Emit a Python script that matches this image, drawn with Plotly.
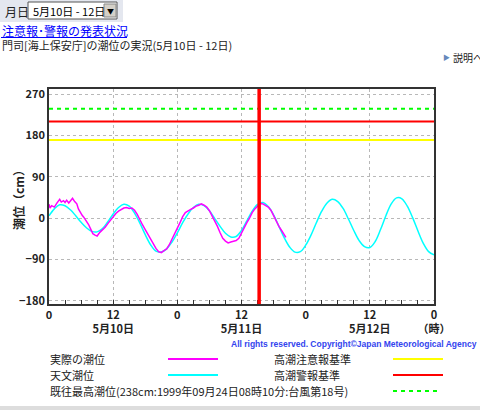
import plotly.graph_objects as go

# Astronomical tide (hourly, from 5/10 00:00), cm
astro_hours = list(range(0, 73))
astro_cm = [5, 20, 29, 27, 18, 5, -9, -21, -29, -30, -23, -8, 9, 23, 30,
            26, 11, -11, -36, -58, -72, -74, -67, -52, -32, -10, 9, 23, 30,
            27, 16, -1, -18, -33, -41, -40, -27, -6, 15, 30, 34, 25, 7, -18,
            -43, -63, -74, -73, -59, -37, -10, 15, 33, 41, 36, 21, -2, -27,
            -49, -62, -64, -51, -25, 5, 31, 44, 42, 26, 1, -28, -55, -73, -80]

# Observed tide, cm
obs_hours = [0, 0.2, 0.5, 1.0, 1.5, 2.0, 2.3, 2.7, 3.0, 3.3, 3.7, 4.0, 4.4, 4.8,
             5.2, 5.5, 5.8, 6.2, 6.5, 7.0, 7.4, 7.8, 8.2, 8.6, 9.0, 9.5, 10.0,
             10.5, 11.0, 11.5, 12.0, 12.5, 13.0, 13.5, 14.0, 14.5, 15.0, 15.5,
             16.0, 16.5, 17.0, 17.5, 18.0, 18.5, 19.0, 19.5, 20.0, 20.5, 21.0,
             21.5, 22.0, 22.5, 23.0, 23.5, 24.0, 24.5, 25.0, 25.5, 26.0, 26.5,
             27.0, 27.5, 28.0, 28.5, 29.0, 29.5, 30.0, 30.5, 31.0, 31.5, 32.0,
             32.5, 33.0, 33.5, 34.0, 34.5, 35.0, 35.5, 36.0, 36.5, 37.0, 37.5,
             38.0, 38.5, 39.0, 39.5, 40.0, 40.5, 41.0, 41.5, 42.0, 42.5, 43.0,
             43.5, 44.0, 44.3]
obs_cm = [30, 22, 27, 24, 33, 41, 35, 38, 34, 39, 33, 38, 43, 36,
          31, 20, 13, 6, 2, -6, -14, -24, -34, -37, -39, -31, -26,
          -20, -12, -4, 4, 10, 15, 19, 22, 23, 21, 22,
          17, 8, -5, -15, -25, -36, -47, -57, -66, -73, -75,
          -71, -67, -58, -47, -35, -22, -10, 3, 12, 16, 19,
          22, 26, 28, 31, 28, 24, 16, 5, -7, -18, -32,
          -44, -50, -54, -52, -50, -49, -44, -32, -20, -10, 0,
          12, 20, 26, 32, 31, 28, 24, 17, 5, -8, -18,
          -27, -35, -42]

# Reference levels, cm
caution_level = 170   # 高潮注意報基準
warning_level = 210   # 高潮警報基準
record_level = 238    # 既往最高潮位
now_hour = 39.3       # current time marker

x_ticks = [0, 12, 24, 36, 48, 60, 72]
x_ticktext = ["0", "12<br>5月10日", "0", "12<br>5月11日", "0", "12<br>5月12日", "0<br>（時）"]
y_ticks = [-180, -90, 0, 90, 180, 270]

JP = "Noto Sans CJK JP"
W, H = 480, 410
L, R, T, B = 49, 434, 89, 304


def px(x):
    return (x - L) / (R - L)


def py(y):
    return (B - y) / (B - T)


fig = go.Figure()
span = [x_ticks[0], x_ticks[-1]]
fig.add_trace(go.Scatter(x=span, y=[caution_level] * 2, mode="lines",
                         line=dict(color="#ffff00", width=2)))
fig.add_trace(go.Scatter(x=span, y=[warning_level] * 2, mode="lines",
                         line=dict(color="#ff0000", width=2)))
fig.add_trace(go.Scatter(x=span, y=[record_level] * 2, mode="lines",
                         line=dict(color="#00ff00", width=2, dash="4px,4px")))
fig.add_trace(go.Scatter(x=astro_hours, y=astro_cm, mode="lines",
                         line=dict(color="#00ffff", width=1.5, shape="spline")))
fig.add_trace(go.Scatter(x=obs_hours, y=obs_cm, mode="lines",
                         line=dict(color="#ff00ff", width=1.5)))

# current time marker
fig.add_shape(type="line", x0=now_hour, x1=now_hour, y0=0, y1=1, yref="y domain",
              line=dict(color="#ff0000", width=3.5), layer="above")

fig.update_layout(
    width=W, height=H, showlegend=False,
    margin=dict(l=L, r=W - R, t=T, b=H - B),
    paper_bgcolor="white", plot_bgcolor="white",
    font=dict(family=JP, color="#222"),
)
fig.update_xaxes(range=[0, 72], tickvals=x_ticks, ticktext=x_ticktext,
                 showgrid=True, gridcolor="#b8b8b8", griddash="dot", gridwidth=1,
                 showline=True, mirror=True, linecolor="#333", linewidth=1.5,
                 ticks="inside", ticklen=4, tickcolor="#333",
                 minor=dict(dtick=3, tick0=0, ticks="inside", ticklen=4,
                            tickcolor="#333", showgrid=False),
                 tickfont=dict(family=JP, size=11, color="#222", weight="bold"),
                 zeroline=False)
fig.update_yaxes(range=[-187, 281], tickvals=y_ticks,
                 showgrid=True, gridcolor="#b8b8b8", griddash="dot", gridwidth=1,
                 showline=True, mirror=True, linecolor="#333", linewidth=1.5,
                 ticks="", ticklabelstandoff=0,
                 tickfont=dict(family=JP, size=11, color="#222", weight="bold"),
                 zeroline=False)

ann = []


def text(x, y, s, size=11, color="#222", anchor="left", **kw):
    ann.append(dict(x=px(x), y=py(y), xref="paper", yref="paper", text=s,
                    showarrow=False, xanchor=anchor, yanchor="middle",
                    font=dict(family=kw.pop("family", JP), size=size, color=color), **kw))


# y-axis title
text(18, 197, "<b>潮位（cm）</b>", size=12, anchor="center", textangle=-90)

# header
fig.add_shape(type="rect", xref="paper", yref="paper", x0=px(0), x1=px(123), y0=py(0), y1=py(22),
              fillcolor="#e4e7ef", line=dict(width=0), layer="below")
fig.add_shape(type="rect", xref="paper", yref="paper", x0=px(28), x1=px(117), y0=py(2), y1=py(19),
              fillcolor="white", line=dict(color="#555", width=1))
fig.add_shape(type="rect", xref="paper", yref="paper", x0=px(104), x1=px(116), y0=py(4), y1=py(17),
              fillcolor="#d4d0c8", line=dict(color="#888", width=1))
text(3, 11, "月日", size=12)
text(31, 11, "5月10日 - 12日", size=11, color="#000")
text(110, 11, "▼", size=7, anchor="center", color="#000")
text(0, 31, "注意報･警報の発表状況", size=12, color="#0000ff")
fig.add_shape(type="line", xref="paper", yref="paper", x0=px(1), x1=px(127), y0=py(37.5), y1=py(37.5),
              line=dict(color="#0000ff", width=1))
text(0, 45, "門司[海上保安庁]の潮位の実況(5月10日 - 12日)", size=11)
text(446, 57, "▶", size=7, anchor="center", color="#6688bb")
text(451, 57, "説明へ", size=10)

# copyright
text(479, 344, "<b>All rights reserved. Copyright©Japan Meteorological Agency</b>", size=8.5,
     color="#3344ee", anchor="right", family="Liberation Sans")

# legend
legend_rows = [
    (359, "実際の潮位", "#ff00ff", "高潮注意報基準", "#ffff00"),
    (375, "天文潮位", "#00ffff", "高潮警報基準", "#ff0000"),
]
for y, lab1, c1, lab2, c2 in legend_rows:
    text(48, y, lab1, size=11)
    fig.add_shape(type="line", xref="paper", yref="paper", x0=px(168), x1=px(218), y0=py(y), y1=py(y),
                  line=dict(color=c1, width=2))
    text(272, y, lab2, size=11)
    fig.add_shape(type="line", xref="paper", yref="paper", x0=px(393), x1=px(443), y0=py(y), y1=py(y),
                  line=dict(color=c2, width=2))
text(48, 391, "既往最高潮位(238cm:1999年09月24日08時10分:台風第18号)", size=11)
fig.add_shape(type="line", xref="paper", yref="paper", x0=px(393), x1=px(440), y0=py(391), y1=py(391),
              line=dict(color="#00ff00", width=2, dash="4px,4px"))

# bottom bar
fig.add_shape(type="rect", xref="paper", yref="paper", x0=px(0), x1=px(480), y0=py(406), y1=py(410),
              fillcolor="#dddddd", line=dict(width=0))

fig.update_layout(annotations=ann)
fig.write_html("out.html", config={"displayModeBar": False},
               post_script="document.body.style.margin='0';")
